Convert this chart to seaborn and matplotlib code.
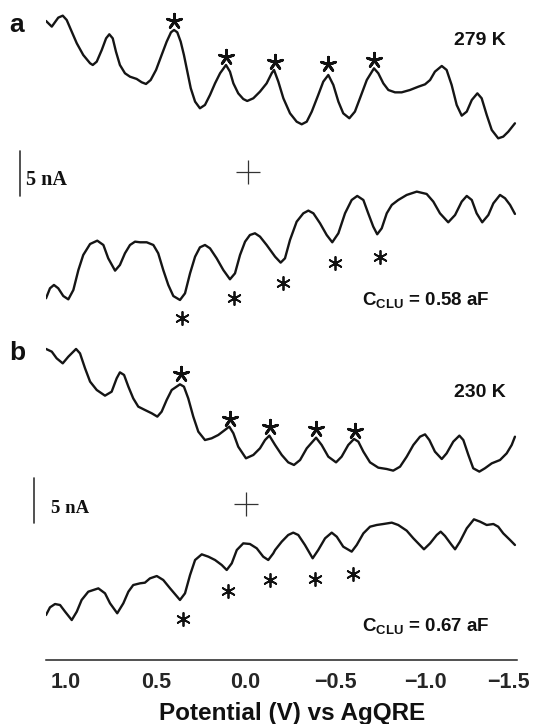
import numpy as np
import pandas as pd
import matplotlib
matplotlib.use("Agg")
import matplotlib.pyplot as plt
import matplotlib.transforms as mtransforms
import seaborn as sns

# ---------------- data (potential in V, current offset in nA) ----------------
a_up_V = [1.11, 1.078, 1.042, 1.017, 0.995, 0.967, 0.939, 0.903, 0.865, 0.850, 0.828, 0.800, 0.776, 0.758,
          0.739, 0.721, 0.699, 0.671, 0.643, 0.606, 0.578, 0.554, 0.528, 0.498, 0.467, 0.439, 0.415, 0.398,
          0.380, 0.361, 0.343, 0.324, 0.305, 0.281, 0.254, 0.226, 0.198, 0.170, 0.142, 0.109, 0.087, 0.068,
          0.041, 0.013, -0.009, -0.043, -0.080, -0.117, -0.145, -0.158, -0.182, -0.210, -0.247, -0.284,
          -0.312, -0.340, -0.368, -0.404, -0.432, -0.460, -0.488, -0.516, -0.543, -0.577, -0.608, -0.636,
          -0.674, -0.714, -0.738, -0.766, -0.794, -0.831, -0.868, -0.914, -0.961, -0.998, -1.026, -1.053,
          -1.091, -1.118, -1.146, -1.174, -1.202, -1.230, -1.258, -1.289, -1.313, -1.341, -1.369, -1.405,
          -1.433, -1.461, -1.498]
a_up_I = [71.0, 70.37, 71.37, 71.59, 71.11, 69.81, 68.52, 67.22, 66.30, 66.11, 66.48, 67.78, 69.07, 69.52,
          69.07, 67.59, 66.11, 65.19, 64.81, 64.56, 64.19, 64.0, 64.44, 65.56, 67.22, 68.70, 69.74, 70.0,
          69.74, 68.70, 67.22, 65.37, 63.52, 62.04, 61.30, 61.67, 62.78, 64.07, 65.19, 66.11, 65.37, 64.07,
          62.96, 62.33, 62.11, 62.41, 63.15, 64.07, 65.19, 65.56, 64.26, 62.41, 60.74, 59.81,
          59.52, 59.81, 60.93, 62.78, 64.26, 65.0, 63.89, 62.04, 60.74, 60.19, 60.93, 62.41,
          64.44, 65.74, 65.19, 64.07, 63.33, 63.07, 63.07, 63.33, 63.70, 63.96, 64.44, 65.37,
          66.0, 65.56, 63.89, 61.67, 60.48, 60.93, 62.22, 62.96, 62.41, 60.56, 58.89, 57.96,
          58.15, 58.70, 59.63]

a_lo_V = [1.11, 1.088, 1.066, 1.042, 1.014, 0.986, 0.958, 0.930, 0.903, 0.865, 0.825, 0.791, 0.764, 0.726,
          0.699, 0.671, 0.643, 0.615, 0.587, 0.550, 0.513, 0.486, 0.458, 0.430, 0.402, 0.365, 0.337, 0.309,
          0.281, 0.254, 0.226, 0.198, 0.161, 0.124, 0.087, 0.059, 0.031, 0.003, -0.024, -0.052, -0.080,
          -0.117, -0.164, -0.195, -0.219, -0.247, -0.284, -0.321, -0.349, -0.377, -0.414, -0.451, -0.482,
          -0.516, -0.553, -0.590, -0.621, -0.655, -0.682, -0.710, -0.732, -0.757, -0.785, -0.813, -0.849,
          -0.896, -0.952, -1.007, -1.044, -1.081, -1.127, -1.165, -1.202, -1.230, -1.258, -1.285, -1.316,
          -1.350, -1.378, -1.415, -1.443, -1.471, -1.498]
a_lo_I = [40.19, 41.30, 41.67, 41.30, 40.44, 40.07, 41.11, 43.33, 45.0, 46.22, 46.59, 46.11, 44.63, 43.26,
          43.89, 45.19, 46.11, 46.48, 46.41, 46.41, 46.11, 45.19, 43.33, 41.67, 40.44, 40.0, 40.74, 42.96,
          44.81, 45.85, 46.11, 45.74, 44.63, 43.33, 42.30, 42.96, 45.0, 46.48, 47.22, 47.41, 47.04,
          46.11, 44.81, 44.15, 44.63, 46.67, 48.70, 49.63, 49.93, 49.63, 48.52, 47.22, 46.41,
          47.41, 49.63, 51.11, 51.56, 51.11, 49.63, 48.15, 47.30, 47.96, 49.63, 50.56, 51.11,
          51.67, 52.04, 51.78, 50.93, 49.63, 48.63, 49.44, 50.93, 51.56, 51.11, 49.63, 48.63,
          49.44, 50.74, 51.67, 51.30, 50.56, 49.56]

b_up_V = [1.11, 1.078, 1.051, 1.017, 0.986, 0.943, 0.921, 0.893, 0.865, 0.828, 0.782, 0.745, 0.717, 0.699,
          0.676, 0.652, 0.625, 0.597, 0.560, 0.522, 0.491, 0.467, 0.439, 0.411, 0.365, 0.343, 0.319, 0.291,
          0.263, 0.226, 0.189, 0.152, 0.115, 0.091, 0.068, 0.041, -0.002, -0.043, -0.080, -0.108, -0.132,
          -0.164, -0.201, -0.237, -0.269, -0.303, -0.340, -0.392, -0.423, -0.460, -0.503, -0.534, -0.571,
          -0.603, -0.627, -0.655, -0.692, -0.738, -0.785, -0.821, -0.859, -0.896, -0.933, -0.970, -0.998,
          -1.022, -1.053, -1.091, -1.118, -1.155, -1.189, -1.211, -1.239, -1.266, -1.300, -1.331, -1.369,
          -1.415, -1.452, -1.480, -1.498]
b_up_I = [34.56, 34.26, 33.52, 32.96, 33.70, 34.56, 34.07, 32.41, 30.93, 30.0, 29.37, 29.81, 31.30, 31.96,
          31.67, 30.37, 29.07, 28.15, 27.78, 27.41, 27.04, 27.59, 28.89, 30.0, 30.63, 30.37, 29.07, 27.04,
          25.37, 24.44, 24.63, 25.0, 25.56, 25.93, 25.19, 23.70, 22.41, 22.78, 23.52, 24.44, 24.93,
          23.89, 22.78, 21.96, 21.67, 22.22, 23.52, 24.70, 23.89, 22.59, 21.96, 22.59, 23.89,
          24.56, 24.26, 23.15, 21.96, 21.37, 21.22, 21.04, 21.48, 22.59, 23.89, 24.81, 25.07,
          24.44, 23.15, 22.33, 22.96, 24.26, 24.93, 24.44, 22.78, 21.30, 20.93, 21.30, 21.85,
          22.22, 22.96, 23.89, 24.81]

b_lo_V = [1.11, 1.088, 1.060, 1.032, 1.004, 0.967, 0.939, 0.912, 0.875, 0.819, 0.782, 0.754, 0.714, 0.680,
          0.652, 0.625, 0.587, 0.560, 0.532, 0.494, 0.458, 0.420, 0.365, 0.337, 0.309, 0.281, 0.244, 0.207,
          0.170, 0.133, 0.105, 0.077, 0.049, 0.013, -0.024, -0.062, -0.098, -0.126, -0.154, -0.164, -0.201,
          -0.237, -0.265, -0.293, -0.330, -0.373, -0.404, -0.442, -0.479, -0.507, -0.543, -0.590, -0.618,
          -0.655, -0.692, -0.729, -0.766, -0.813, -0.849, -0.896, -0.933, -0.992, -1.026, -1.063, -1.085,
          -1.109, -1.146, -1.165, -1.192, -1.230, -1.270, -1.304, -1.341, -1.378, -1.405, -1.433, -1.471,
          -1.498]
b_lo_I = [5.0, 5.85, 6.22, 6.11, 5.37, 4.44, 5.37, 6.67, 7.59, 7.96, 7.41, 6.30, 5.19, 6.30,
          7.59, 8.33, 8.52, 8.59, 9.07, 9.33, 8.89, 7.96, 6.67, 7.41, 9.44, 11.11, 11.74, 11.48,
          11.11, 10.56, 10.0, 10.74, 12.22, 12.96, 12.89, 12.41, 11.48, 11.11, 11.85, 12.22, 13.15,
          13.89, 14.15, 13.89, 12.78, 11.30, 12.22, 13.52, 14.15, 13.70, 12.59, 12.04, 12.78,
          14.07, 14.81, 15.0, 15.11, 15.26, 15.0, 14.37, 13.52, 12.30, 12.96, 13.89, 14.26,
          13.78, 12.78, 12.30, 13.15, 14.63, 15.63, 15.37, 15.0, 15.11, 14.81, 14.07, 13.33,
          12.78]

# asterisk marks (peak positions)
a_up_star_V = [0.398, 0.109, -0.164, -0.456, -0.714]
a_up_star_I = [71.03, 67.0, 66.39, 66.19, 66.67]
a_lo_star_V = [0.355, 0.065, -0.210, -0.497, -0.748]
a_lo_star_I = [37.96, 40.19, 41.85, 44.07, 44.81]
b_up_star_V = [0.361, 0.087, -0.136, -0.394, -0.608]
b_up_star_I = [31.74, 26.83, 25.94, 25.72, 25.39]
b_lo_star_V = [0.350, 0.098, -0.136, -0.387, -0.600]
b_lo_star_I = [4.61, 7.72, 8.94, 9.04, 9.50]

# zero-current crosses
cross_V = [-0.015, 0.0]
cross_I = [54.27, 17.33]

# scale bars (5 nA)
scale_nA = 5
scale_V = [1.252, 1.177]
scale_I0 = [51.5, 15.2]

x_ticks = [1.0, 0.5, 0.0, -0.5, -1.0, -1.5]
x_ticklabels = ["1.0", "0.5", "0.0", "\u22120.5", "\u22121.0", "\u22121.5"]
panel_labels = ["a", "b"]
temperatures = ["279 K", "230 K"]
capacitances = ["0.58", "0.67"]

# ---------------- style ----------------
sns.set_style("white")
plt.rcParams["font.family"] = ["Liberation Sans", "DejaVu Sans"]
plt.rcParams["mathtext.fontset"] = "custom"
plt.rcParams["mathtext.bf"] = "Liberation Sans:bold"
plt.rcParams["mathtext.rm"] = "Liberation Sans"

W, H = 533, 724
fig = plt.figure(figsize=(W / 100, H / 100), dpi=100)
fig.patch.set_facecolor("white")
ax = fig.add_axes([45.9 / W, 64 / H, (516.7 - 45.9) / W, 660 / H])
ax.set_facecolor("white")

line_color = "#151515"
for V, I in [(a_up_V, a_up_I), (a_lo_V, a_lo_I), (b_up_V, b_up_I), (b_lo_V, b_lo_I)]:
    df = pd.DataFrame({"V": V, "I": I})
    sns.lineplot(data=df, x="V", y="I", sort=False, estimator=None, ax=ax,
                 color=line_color, linewidth=1.7, solid_joinstyle="round",
                 solid_capstyle="round")

# upper-trace asterisks (5 arms), lower-trace asterisks (6 arms)
for V, I in [(a_up_star_V, a_up_star_I), (b_up_star_V, b_up_star_I)]:
    sns.scatterplot(x=V, y=I, ax=ax, marker=(5, 2, 0), s=110, color="#111111",
                    linewidth=2.0, clip_on=False)
for V, I in [(a_lo_star_V, a_lo_star_I), (b_lo_star_V, b_lo_star_I)]:
    sns.scatterplot(x=V, y=I, ax=ax, marker=(6, 2, 0), s=90, color="#111111",
                    linewidth=1.3, clip_on=False)

sns.scatterplot(x=cross_V, y=cross_I, ax=ax, marker="+", s=300, color="#333333",
                linewidth=0.9, clip_on=False)

for sv, si in zip(scale_V, scale_I0):
    ax.plot([sv, sv], [si, si + scale_nA], color="#333333", lw=1.2, clip_on=False)

ax.set_xlim(1.1107, -1.5078)
ax.set_ylim(0, 73.33)
ax.set_xticks(x_ticks)
ax.set_xticklabels(x_ticklabels, fontsize=15.5, fontweight="bold")
ax.set_yticks([])
ax.set_xlabel("")
ax.set_ylabel("")
for s in ["left", "top", "right"]:
    ax.spines[s].set_visible(False)
ax.spines["bottom"].set_color("#222222")
ax.spines["bottom"].set_linewidth(1.1)
ax.tick_params(axis="x", direction="in", length=3.5, width=1.0, color="#222222", pad=9)
last = ax.get_xticklabels()[-1]
last.set_transform(last.get_transform() + mtransforms.ScaledTranslation(-7 / 100, 0, fig.dpi_scale_trans))

# texts
fig.text(292 / W, 1 - 720 / H, "Potential (V) vs AgQRE", ha="center", va="baseline",
         fontsize=17.5, fontweight="bold", color="#111111")
fig.text(9.5 / W, 1 - 32.3 / H, panel_labels[0], ha="left", va="baseline", fontsize=19,
         fontweight="bold", color="#111111")
fig.text(9.5 / W, 1 - 359.5 / H, panel_labels[1], ha="left", va="baseline", fontsize=19,
         fontweight="bold", color="#111111")
fig.text(506 / W, 1 - 45 / H, temperatures[0], ha="right", va="baseline", fontsize=14,
         fontweight="bold", color="#111111")
fig.text(506 / W, 1 - 397 / H, temperatures[1], ha="right", va="baseline", fontsize=14,
         fontweight="bold", color="#111111")
fig.text(361.7 / W, 1 - 306 / H, r"$\mathbf{C}_{\mathbf{CLU}}$ = " + capacitances[0] + " aF",
         ha="left", va="baseline", fontsize=13.5, fontweight="bold", color="#111111")
fig.text(361.7 / W, 1 - 632 / H, r"$\mathbf{C}_{\mathbf{CLU}}$ = " + capacitances[1] + " aF",
         ha="left", va="baseline", fontsize=13.5, fontweight="bold", color="#111111")
fig.text(25.5 / W, 1 - 185.2 / H, "5 nA", ha="left", va="baseline", fontsize=14.5,
         fontweight="bold", family=["Liberation Serif", "DejaVu Serif"], color="#111111")
fig.text(51 / W, 1 - 512.8 / H, "5 nA", ha="left", va="baseline", fontsize=13.5,
         fontweight="bold", family=["Liberation Serif", "DejaVu Serif"], color="#111111")

fig.savefig("out.png", dpi=100, facecolor="white")
